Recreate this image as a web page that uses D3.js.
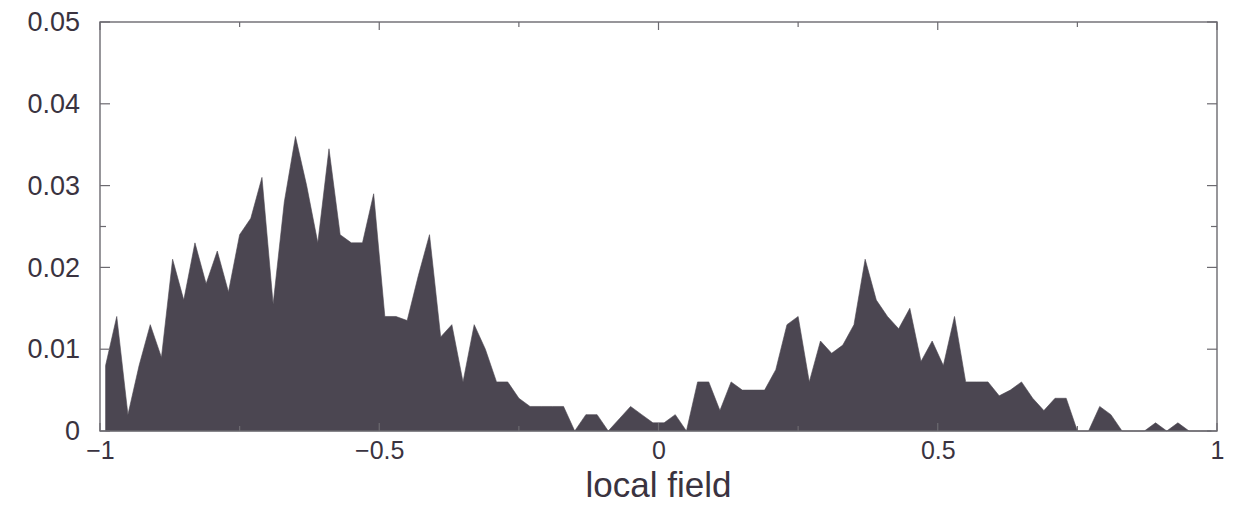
<!DOCTYPE html>
<html>
<head>
<meta charset="utf-8">
<script src="https://cdn.jsdelivr.net/npm/d3@7"></script>
<style>
  html, body { margin: 0; padding: 0; background: #ffffff; }
  svg { display: block; }
  text { font-family: "Liberation Sans", Arial, Helvetica, sans-serif; fill: #3a3340; }
</style>
</head>
<body>
<script>
// Histogram of local field values: 100 bins of width 0.02 spanning [-1, 1]
const fieldDomain = [-1, 1];
const binCount = 100;
const frequency = [
  0.008, 0.014, 0.002, 0.008, 0.013, 0.009, 0.021, 0.016, 0.023, 0.018,
  0.022, 0.017, 0.024, 0.026, 0.031, 0.0155, 0.028, 0.036, 0.030, 0.023,
  0.0345, 0.024, 0.023, 0.023, 0.029, 0.014, 0.014, 0.0135, 0.019, 0.024,
  0.0115, 0.013, 0.006, 0.013, 0.010, 0.006, 0.006, 0.004, 0.003, 0.003,
  0.003, 0.003, 0, 0.002, 0.002, 0, 0.0015, 0.003, 0.002, 0.001,
  0.001, 0.002, 0, 0.006, 0.006, 0.0025, 0.006, 0.005, 0.005, 0.005,
  0.0075, 0.013, 0.014, 0.006, 0.011, 0.0095, 0.0105, 0.013, 0.021, 0.016,
  0.014, 0.0125, 0.015, 0.0085, 0.011, 0.008, 0.014, 0.006, 0.006, 0.006,
  0.0043, 0.005, 0.006, 0.004, 0.0025, 0.004, 0.004, 0, 0, 0.003,
  0.002, 0, 0, 0, 0.001, 0, 0.001, 0, 0, 0
];
const xTickValues = [-1, -0.5, 0, 0.5, 1];
const xTickLabels = ["\u22121", "\u22120.5", "0", "0.5", "1"];
const xMinorTicks = [-0.75, -0.25, 0.25, 0.75];
const yTickValues = [0, 0.01, 0.02, 0.03, 0.04, 0.05];
const yTickLabels = ["0", "0.01", "0.02", "0.03", "0.04", "0.05"];
const yMinorTicks = [0.025];
const xTitle = "local field";

const W = 1249, H = 508;
const margin = { left: 100, right: 32, top: 22, bottom: 77 };

const svg = d3.select("body").append("svg").attr("width", W).attr("height", H);

const x = d3.scaleLinear().domain(fieldDomain).range([margin.left, W - margin.right]);
const y = d3.scaleLinear().domain([0, 0.05]).range([H - margin.bottom, margin.top]);

const binWidth = (fieldDomain[1] - fieldDomain[0]) / binCount;
const points = frequency.map((v, i) => ({ c: fieldDomain[0] + binWidth * (i + 0.5), v }));

// filled frequency profile
const area = d3.area()
  .x(d => x(d.c))
  .y0(y(0))
  .y1(d => y(d.v))
  .curve(d3.curveLinear);

svg.append("path")
  .datum(points)
  .attr("d", area)
  .attr("fill", "#4b4651")
  .attr("stroke", "#4b4651")
  .attr("stroke-width", 0.6);

// frame
const frameColor = "#6c6a70";
const x0 = x(fieldDomain[0]), x1 = x(fieldDomain[1]), yb = y(0), yt = y(0.05);
svg.append("rect")
  .attr("x", x0).attr("y", yt)
  .attr("width", x1 - x0).attr("height", yb - yt)
  .attr("fill", "none").attr("stroke", frameColor).attr("stroke-width", 1.4);

// inward ticks: bottom / top
const tickLen = 8, minorLen = 5;
const xAllTicks = xTickValues.map(v => ({ v, len: tickLen }))
  .concat(xMinorTicks.map(v => ({ v, len: minorLen })));
const ticks = svg.append("g");
xAllTicks.forEach(t => {
  ticks.append("line").attr("x1", x(t.v)).attr("x2", x(t.v))
    .attr("y1", yb).attr("y2", yb - t.len)
    .attr("stroke", frameColor).attr("stroke-width", 1.2);
  ticks.append("line").attr("x1", x(t.v)).attr("x2", x(t.v))
    .attr("y1", yt).attr("y2", yt + t.len)
    .attr("stroke", frameColor).attr("stroke-width", 1.2);
});

// inward ticks: left / right
const yAllTicks = yTickValues.map(v => ({ v, len: 10 }))
  .concat(yMinorTicks.map(v => ({ v, len: 6 })));
yAllTicks.forEach(t => {
  ticks.append("line").attr("x1", x0).attr("x2", x0 + t.len)
    .attr("y1", y(t.v)).attr("y2", y(t.v))
    .attr("stroke", frameColor).attr("stroke-width", 1.2);
  ticks.append("line").attr("x1", x1).attr("x2", x1 - t.len)
    .attr("y1", y(t.v)).attr("y2", y(t.v))
    .attr("stroke", frameColor).attr("stroke-width", 1.2);
});

// tick labels via d3 axes (lines hidden, labels kept)
const xAxis = d3.axisBottom(x).tickValues(xTickValues)
  .tickFormat((d, i) => xTickLabels[i]).tickSize(0).tickPadding(10);
const gx = svg.append("g").attr("transform", `translate(0,${yb})`).call(xAxis);
gx.select(".domain").remove();
gx.selectAll("text")
  .attr("font-size", 25)
  .attr("fill", "#3a3340")
  .style("font-family", "\"Liberation Sans\", Arial, sans-serif");

const yAxis = d3.axisLeft(y).tickValues(yTickValues)
  .tickFormat((d, i) => yTickLabels[i]).tickSize(0).tickPadding(20);
const gy = svg.append("g").attr("transform", `translate(${x0},0)`).call(yAxis);
gy.select(".domain").remove();
gy.selectAll("text")
  .attr("font-size", 27)
  .attr("fill", "#3a3340")
  .style("font-family", "\"Liberation Sans\", Arial, sans-serif");

// axis title
svg.append("text")
  .attr("x", (x0 + x1) / 2)
  .attr("y", 497)
  .attr("text-anchor", "middle")
  .attr("font-size", 35)
  .text(xTitle);
</script>
</body>
</html>
